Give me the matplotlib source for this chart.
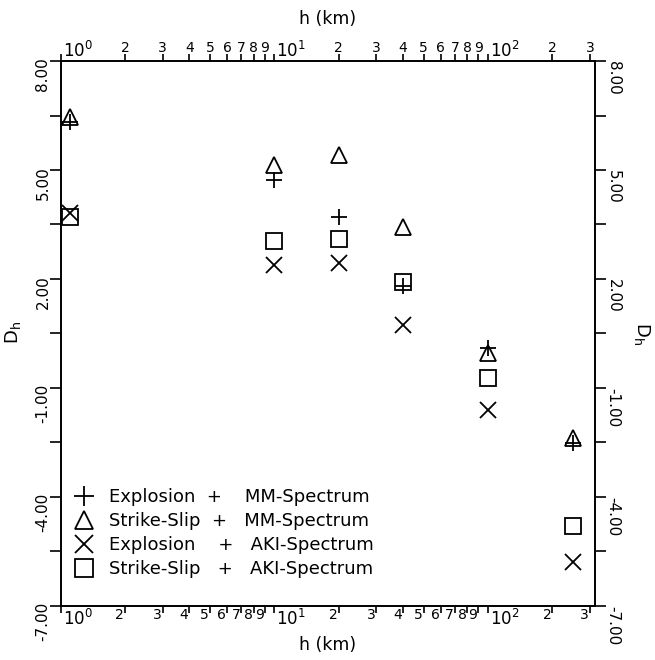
import matplotlib
matplotlib.use('Agg')
import matplotlib.pyplot as plt
import matplotlib.transforms as mtransforms

# depth h (km) of the source
depth_km = [1.1, 10, 20, 40, 100, 250]

# D_h values
expl_mm = [6.31, 4.72, 3.70, 1.80, 0.09, -2.52]
ss_mm = [6.46, 5.14, 5.41, 3.44, -0.05, -2.37]
expl_aki = [3.81, 2.38, 2.43, 0.73, -1.61, -5.80]
ss_aki = [3.70, 3.04, 3.09, 1.91, -0.74, -4.82]

series_labels = ['Explosion  +    MM-Spectrum',
                 'Strike-Slip  +   MM-Spectrum',
                 'Explosion    +   AKI-Spectrum',
                 'Strike-Slip   +   AKI-Spectrum']

major_y = [-7, -4, -1, 2, 5, 8]
minor_y = [-5.5, -2.5, 0.5, 3.5, 6.5]
decades = [1, 10, 100]
decade_labels = ['$10^0$', '$10^1$', '$10^2$']
minor_x = [2, 3, 4, 5, 6, 7, 8, 9, 20, 30, 40, 50, 60, 70, 80, 90, 200, 300]

W, H = 655, 660
fig = plt.figure(figsize=(W / 100, H / 100), dpi=100)
ax = fig.add_axes([60.7 / W, 1 - 605.6 / H, 534.3 / W, 544.5 / H])

mk = dict(ls='none', color='k', mfc='none', mew=1.3)
ax.plot(depth_km, expl_mm, marker='+', ms=12, label=series_labels[0], **mk)
ax.plot(depth_km, ss_mm, marker='^', ms=11, label=series_labels[1], **mk)
ax.plot(depth_km, expl_aki, marker='x', ms=11, label=series_labels[2], **mk)
ax.plot(depth_km, ss_aki, marker='s', ms=11, label=series_labels[3], **mk)

ax.set_xscale('log')
ax.set_xlim(1, 10 ** 2.5)
ax.set_ylim(-7, 8)

ax.set_xticks(decades)
ax.set_xticks(minor_x, minor=True)
ax.set_yticks(major_y)
ax.set_yticks(minor_y, minor=True)
ax.tick_params(axis='x', which='both', direction='out', length=5, width=1.2,
               top=True, bottom=True, labelbottom=False, labeltop=False)
ax.tick_params(axis='y', which='both', direction='out', length=8, width=1.2,
               left=True, right=True, labelleft=False, labelright=False)
for s in ax.spines.values():
    s.set_linewidth(1.4)

def px(dx, dy):
    return mtransforms.ScaledTranslation(dx / 100, dy / 100, fig.dpi_scale_trans)

xt = mtransforms.blended_transform_factory(ax.transData, ax.transAxes)
yt = mtransforms.blended_transform_factory(ax.transAxes, ax.transData)

# x tick labels, top and bottom
for x, lab in zip(decades, decade_labels):
    ax.text(x, 1, lab, transform=xt + px(2, 0), ha='left', va='bottom', fontsize=12)
    ax.text(x, 0, lab, transform=xt + px(2, -3), ha='left', va='top', fontsize=12)
for x in minor_x:
    ax.text(x, 1, str(x)[0], transform=xt + px(0, 6), ha='center', va='bottom', fontsize=10)
    ax.text(x, 0, str(x)[0], transform=xt + px(-1, -2), ha='right', va='top', fontsize=10)

# y tick labels, left and right
for y in major_y:
    ax.text(0, y, '%.2f' % y, transform=yt + px(-17.7, 4), rotation=90,
            rotation_mode='anchor', ha='right', va='center', fontsize=11)
    ax.text(1, y, '%.2f' % y, transform=yt + px(18, 0), rotation=-90,
            rotation_mode='anchor', ha='left', va='center', fontsize=11)

fig.text(328 / W, 1 - 19 / H, 'h (km)', ha='center', va='center', fontsize=12.5)
fig.text(328 / W, 1 - 645 / H, 'h (km)', ha='center', va='center', fontsize=12.5)
fig.text(13 / W, 1 - 333 / H, r'D$_\mathrm{h}$', rotation=90, ha='center', va='center', fontsize=13)
fig.text(642 / W, 1 - 333 / H, r'D$_\mathrm{h}$', rotation=-90, ha='center', va='center', fontsize=13)

ax.legend(loc='upper left', bbox_to_anchor=(75 / W, 1 - 488 / H), bbox_transform=fig.transFigure,
          frameon=False, fontsize=13, handlelength=1.0, handletextpad=0.9, markerscale=1.15,
          labelspacing=0.34, borderpad=0, borderaxespad=0)

fig.savefig('out.png', dpi=100)
